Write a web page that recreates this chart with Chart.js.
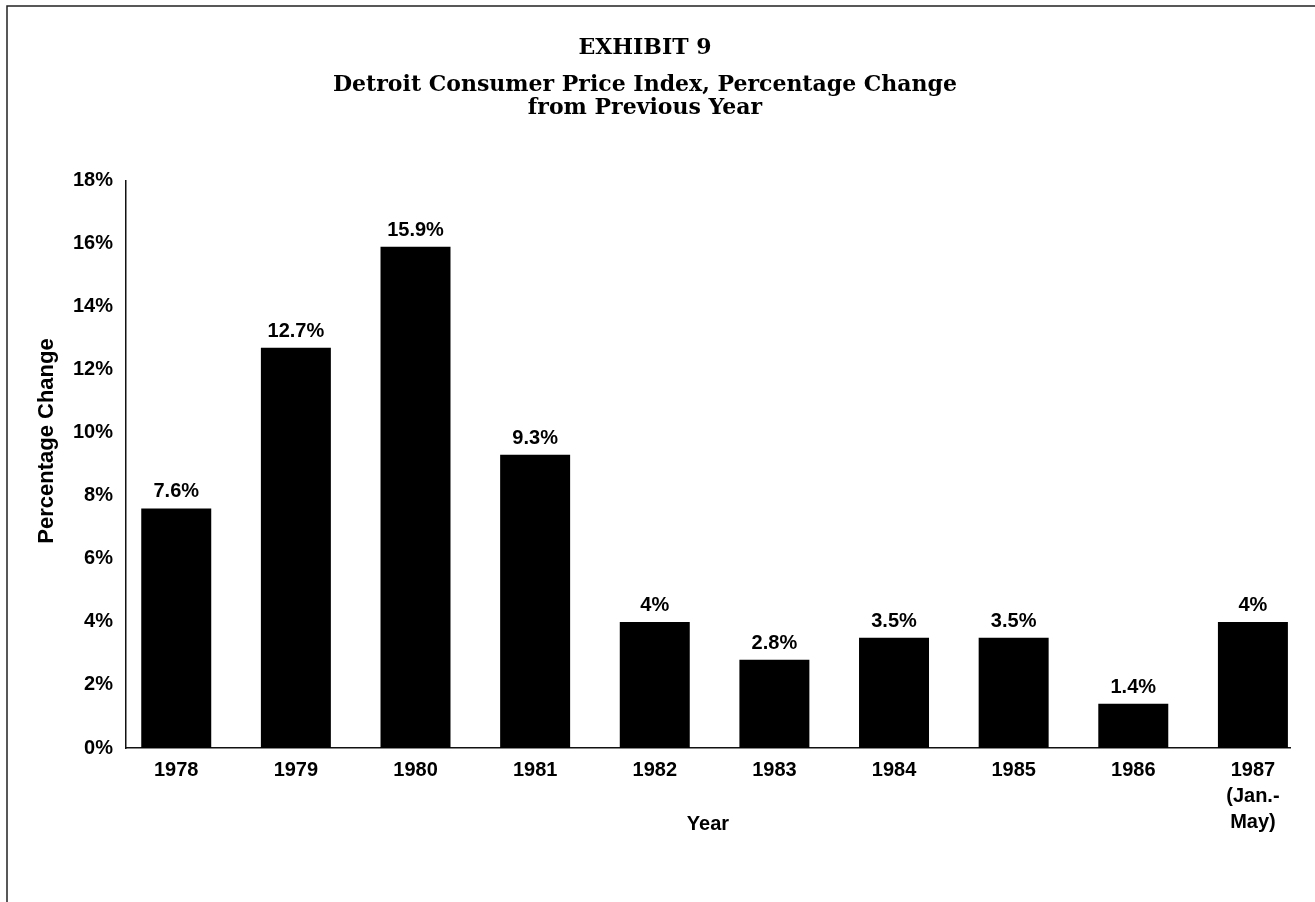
<!DOCTYPE html>
<html>
<head>
<meta charset="utf-8">
<title>Detroit Consumer Price Index</title>
<script src="https://cdn.jsdelivr.net/npm/chart.js@4/dist/chart.umd.min.js"></script>
<style>
  html, body { margin: 0; padding: 0; background: #fff; }
  #wrap { width: 1315px; height: 902px; }
</style>
</head>
<body>
<div id="wrap"><canvas id="cpi-chart" width="1315" height="902"></canvas></div>
<script>
// yearly change of the Detroit CPI
const years = [1978, 1979, 1980, 1981, 1982, 1983, 1984, 1985, 1986, 1987];
const yearLabels = ['1978', '1979', '1980', '1981', '1982', '1983', '1984', '1985', '1986', ['1987', '(Jan.-', 'May)']];
const pctChange = [7.6, 12.7, 15.9, 9.3, 4, 2.8, 3.5, 3.5, 1.4, 4];
const yTicks = [0, 2, 4, 6, 8, 10, 12, 14, 16, 18];

const sans = 'Liberation Sans, Arial, Helvetica, sans-serif';
const serif = 'DejaVu Serif, Liberation Serif, serif';

Chart.defaults.color = '#000';
Chart.defaults.font.family = sans;

// page frame (top + left rule) and white backdrop
const framePlugin = {
    id: 'frame',
    beforeDraw(chart) {
        const ctx = chart.ctx;
        ctx.save();
        ctx.fillStyle = '#fff';
        ctx.fillRect(0, 0, chart.width, chart.height);
        ctx.strokeStyle = '#222';
        ctx.lineWidth = 1.5;
        ctx.beginPath();
        ctx.moveTo(7, chart.height);
        ctx.lineTo(7, 6);
        ctx.lineTo(chart.width, 6);
        ctx.stroke();
        ctx.restore();
    }
};

// value printed above every bar
const valueLabels = {
    id: 'valueLabels',
    afterDatasetsDraw(chart) {
        const ctx = chart.ctx;
        const meta = chart.getDatasetMeta(0);
        ctx.save();
        ctx.font = 'bold 20px ' + sans;
        ctx.fillStyle = '#000';
        ctx.textAlign = 'center';
        ctx.textBaseline = 'alphabetic';
        meta.data.forEach((bar, i) => {
            ctx.fillText(pctChange[i] + '%', bar.x, bar.y - 11);
        });
        ctx.restore();
    }
};

// rotated y axis caption, sitting a bit above the middle of the axis
const yCaption = {
    id: 'yCaption',
    afterDraw(chart) {
        const ctx = chart.ctx;
        ctx.save();
        ctx.translate(47, 441);
        ctx.rotate(-Math.PI / 2);
        ctx.font = 'bold 22px ' + sans;
        ctx.fillStyle = '#000';
        ctx.textAlign = 'center';
        ctx.textBaseline = 'middle';
        ctx.fillText('Percentage Change', 0, 0);
        ctx.restore();
    }
};

new Chart(document.getElementById('cpi-chart'), {
    type: 'bar',
    data: {
        datasets: [{
            data: years.map((yr, i) => ({ x: yr, y: pctChange[i] })),
            backgroundColor: '#000',
            borderWidth: 0,
            barPercentage: 0.585,
            categoryPercentage: 1
        }]
    },
    options: {
        responsive: false,
        animation: false,
        layout: { padding: { top: 35, right: 25, bottom: 0, left: 0 } },
        plugins: {
            legend: { display: false },
            tooltip: { enabled: false },
            title: {
                display: true,
                text: 'EXHIBIT 9',
                font: { family: serif, size: 22, weight: 'bold', lineHeight: 1.2 },
                padding: { top: 0, bottom: 12 }
            },
            subtitle: {
                display: true,
                text: ['Detroit Consumer Price Index, Percentage Change', 'from Previous Year'],
                color: '#000',
                font: { family: serif, size: 22, weight: 'bold', lineHeight: 1.05 },
                padding: { top: 0, bottom: 61 }
            }
        },
        scales: {
            x: {
                type: 'linear',
                offset: false,
                min: 1977.58,
                max: 1987.31,
                afterBuildTicks: s => { s.ticks = years.map(v => ({ value: v })); },
                afterFit: s => { s.height = 154; },
                grid: { display: false, drawTicks: false },
                border: { display: true, color: '#111', width: 1.5 },
                ticks: {
                    autoSkip: false,
                    maxRotation: 0,
                    padding: 9,
                    font: { size: 20, weight: 'bold', lineHeight: 1.3 },
                    callback: v => yearLabels[years.indexOf(v)]
                },
                title: {
                    display: true,
                    text: 'Year',
                    font: { size: 20, weight: 'bold' },
                    padding: { top: 0, bottom: 66 }
                }
            },
            y: {
                min: 0,
                max: 18,
                afterBuildTicks: s => { s.ticks = yTicks.map(v => ({ value: v })); },
                afterFit: s => { s.width = 126; },
                grid: { display: false, drawTicks: false },
                border: { display: true, color: '#111', width: 1.5 },
                ticks: {
                    padding: 13,
                    font: { size: 20, weight: 'bold' },
                    callback: v => v + '%'
                }
            }
        }
    },
    plugins: [framePlugin, valueLabels, yCaption]
});
</script>
</body>
</html>
